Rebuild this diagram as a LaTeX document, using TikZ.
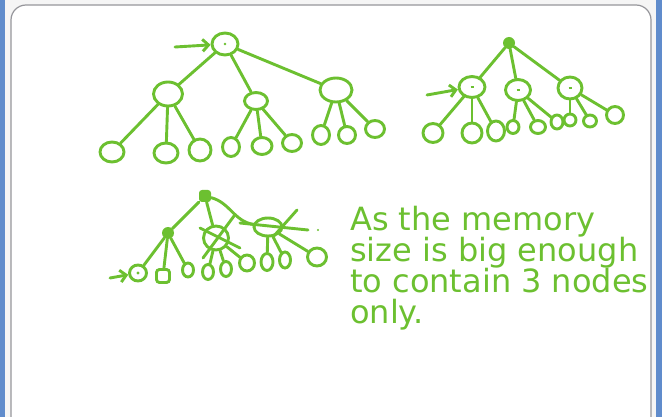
\documentclass[tikz,border=0pt]{standalone}
\usepackage{fontspec}
\usepackage{tikz}
\usetikzlibrary{shapes.geometric,arrows.meta}
\newfontfamily\handfont{DejaVu Sans}
\definecolor{pen}{RGB}{108,192,48}
\definecolor{winblue}{RGB}{96,140,204}
\definecolor{framegray}{RGB}{150,150,155}

\begin{document}
\begin{tikzpicture}[x=1pt,y=-1pt,
        nd/.style={ellipse,draw=pen,line width=2.9pt,inner sep=0pt},
        full/.style={rectangle,rounded corners=3pt,fill=pen,inner sep=0pt,minimum size=12pt},
        lk/.style={draw=pen,line width=2.9pt,line cap=round},
        inarrow/.style={lk,-{Straight Barb[length=6pt,width=12pt]}}]
        \useasboundingbox (0,0) rectangle (662,417);
        \fill[gray!8] (0,0) rectangle (662,417);
        \fill[winblue] (0,0) rectangle (5,417);
        \fill[winblue] (656,0) rectangle (662,417);
        \filldraw[fill=white,draw=framegray,line width=1.2pt,rounded corners=15pt] (11,5) rectangle (651,440);

        \node[nd,minimum width=26pt,minimum height=22pt] (r1) at (225,44) {};
        \fill[pen] (r1) circle (1.4pt);
        \coordinate (in1) at (175,47);
        \draw[inarrow] (in1) -- (r1);
        \node[nd,minimum width=29pt,minimum height=24pt] (a1) at (168,94) {};
        \node[nd,minimum width=23pt,minimum height=17pt] (b1) at (256,101) {};
        \node[nd,minimum width=32pt,minimum height=24pt] (c1) at (336,90) {};
        \draw[lk] (r1) -- (a1);
        \draw[lk] (r1) -- (b1);
        \draw[lk] (r1) -- (c1);
        \node[nd,minimum width=24pt,minimum height=20pt] (a1l1) at (112,152) {};
        \node[nd,minimum width=24pt,minimum height=20pt] (a1l2) at (166,153) {};
        \node[nd,minimum width=22pt,minimum height=22pt] (a1l3) at (200,150) {};
        \node[nd,minimum width=17pt,minimum height=19pt] (b1l1) at (231,147) {};
        \node[nd,minimum width=20pt,minimum height=17pt] (b1l2) at (262,146) {};
        \node[nd,minimum width=19pt,minimum height=17pt] (b1l3) at (292,143) {};
        \node[nd,minimum width=17pt,minimum height=19pt] (c1l1) at (321,135) {};
        \node[nd,minimum width=17pt,minimum height=17pt] (c1l2) at (347,135) {};
        \node[nd,minimum width=19pt,minimum height=17pt] (c1l3) at (375,129) {};
        \foreach \l in {a1l1,a1l2,a1l3} \draw[lk] (a1) -- (\l);
        \foreach \l in {b1l1,b1l2,b1l3} \draw[lk] (b1) -- (\l);
        \foreach \l in {c1l1,c1l2,c1l3} \draw[lk] (c1) -- (\l);

        \node[full,circle,minimum size=12pt] (r2) at (509,43) {};
        \node[nd,minimum width=26pt,minimum height=21pt] (a2) at (472,87) {};
        \node[nd,minimum width=25pt,minimum height=21pt] (b2) at (518,90) {};
        \node[nd,minimum width=24pt,minimum height=22pt] (c2) at (570,88) {};
        \foreach \n in {a2,b2,c2} {
            \draw[lk] (r2) -- (\n);
            \draw[pen,line width=1.8pt] ([xshift=-1.5pt]\n.center) -- ([xshift=1.5pt]\n.center);
        }
        \coordinate (in2) at (427,95);
        \draw[inarrow] (in2) -- (a2);
        \node[nd,minimum width=20pt,minimum height=19pt] (a2l1) at (433,133) {};
        \node[nd,minimum width=20pt,minimum height=20pt] (a2l2) at (472,133) {};
        \node[nd,minimum width=17pt,minimum height=20pt] (a2l3) at (496,131) {};
        \node[nd,minimum width=12pt,minimum height=13pt] (b2l1) at (513,127) {};
        \node[nd,minimum width=15pt,minimum height=13pt] (b2l2) at (538,127) {};
        \node[nd,minimum width=12pt,minimum height=14pt] (b2l3) at (557,122) {};
        \node[nd,minimum width=12pt,minimum height=12pt] (c2l1) at (570,120) {};
        \node[nd,minimum width=13pt,minimum height=12pt] (c2l2) at (590,121) {};
        \node[nd,minimum width=17pt,minimum height=17pt] (c2l3) at (615,115) {};
        \foreach \l in {a2l1,a2l2,a2l3} \draw[lk] (a2) -- (\l);
        \foreach \l in {b2l1,b2l2,b2l3} \draw[lk] (b2) -- (\l);
        \foreach \l in {c2l1,c2l2,c2l3} \draw[lk] (c2) -- (\l);

        \node[full] (r3) at (205,196) {};
        \node[full,circle,minimum size=12pt] (a3) at (168,233) {};
        \node[nd,minimum width=25pt,minimum height=24pt] (b3) at (216,238) {};
        \node[nd,minimum width=28pt,minimum height=18pt] (c3) at (268,227) {};
        \draw[lk] (r3) -- (a3);
        \draw[lk] (r3) -- (b3);
        \draw[lk] (r3) to[out=-15,in=170] (c3);
        \draw[lk] ([shift={(-16,-10)}]b3.center) -- ([shift={(24,10)}]b3.center);
        \draw[lk] ([shift={(-13,20)}]b3.center) -- ([shift={(18,-22)}]b3.center);
        \draw[lk] ([shift={(-28,-4)}]c3.center) -- ([shift={(40,3)}]c3.center);
        \draw[lk] ([shift={(29,-17)}]c3.center) -- ([shift={(5,10)}]c3.center);
        \fill[pen] (318,230) circle (1.2pt);
        \node[nd,minimum width=17pt,minimum height=16pt] (a3l1) at (138,273) {};
        \fill[pen] (a3l1) circle (1.6pt);
        \coordinate (in3) at (110,278);
        \draw[inarrow] (in3) -- (a3l1);
        \node[nd,rectangle,rounded corners=3pt,minimum width=13pt,minimum height=13pt] (a3l2) at (163,276) {};
        \node[nd,minimum width=11pt,minimum height=14pt] (a3l3) at (188,270) {};
        \node[nd,minimum width=11pt,minimum height=15pt] (b3l1) at (208,272) {};
        \node[nd,minimum width=11pt,minimum height=15pt] (b3l2) at (226,269) {};
        \node[nd,minimum width=15pt,minimum height=16pt] (b3l3) at (247,263) {};
        \node[nd,minimum width=12pt,minimum height=17pt] (c3l1) at (267,262) {};
        \node[nd,minimum width=11pt,minimum height=16pt] (c3l2) at (285,260) {};
        \node[nd,minimum width=19pt,minimum height=18pt] (c3l3) at (317,257) {};
        \foreach \l in {a3l1,a3l2,a3l3} \draw[lk] (a3) -- (\l);
        \foreach \l in {b3l1,b3l2,b3l3} \draw[lk] (b3) -- (\l);
        \foreach \l in {c3l1,c3l2,c3l3} \draw[lk] (c3) -- (\l);

        \node[anchor=north west,align=left,text=pen,font=\handfont\fontsize{32}{31}\selectfont,inner sep=0pt] (note) at (350,206)
            {As the memory\\size is big enough\\to contain 3 nodes\\only.};
    \end{tikzpicture}
\end{document}
